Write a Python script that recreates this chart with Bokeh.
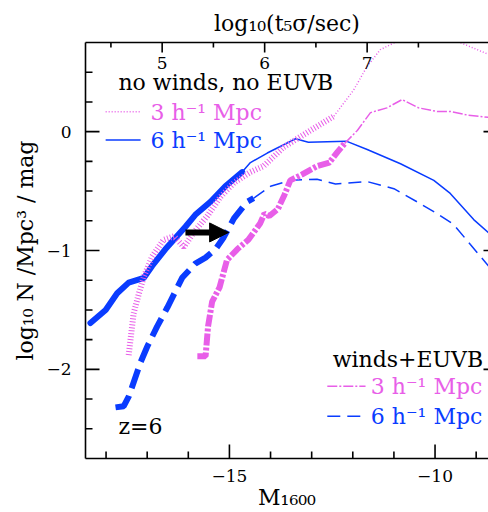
from bokeh.plotting import figure
from bokeh.models import (Range1d, LinearAxis, FixedTicker, Label, Arrow, NormalHead,
                          ColumnDataSource)
from bokeh.embed import file_html
from bokeh.resources import INLINE

# ---------------- data ----------------
# no winds, no EUVB, 6 h^-1 Mpc (blue solid)
m_nw6_thick = [-18.38, -18.01, -17.73, -17.45, -17.08, -16.88, -16.56, -16.07, -15.83, -15.46, -15.10, -14.69]
n_nw6_thick = [-1.61, -1.50, -1.36, -1.27, -1.23, -1.13, -0.99, -0.80, -0.70, -0.59, -0.46, -0.34]
m_nw6_thin = [-14.69, -14.49, -14.08, -13.68, -13.39, -13.08, -12.16, -11.65, -10.84, -10.03, -9.63, -9.06, -8.70]
n_nw6_thin = [-0.34, -0.26, -0.18, -0.11, -0.06, -0.09, -0.08, -0.15, -0.27, -0.41, -0.52, -0.74, -0.85]

# no winds, no EUVB, 3 h^-1 Mpc (magenta dotted)
m_nw3_thick = [-17.45, -17.33, -17.20, -17.08, -16.88, -16.60, -16.35, -16.11, -15.87, -15.54, -15.22, -14.89, -14.49, -14.17, -13.68, -13.03, -12.46]
n_nw3_thick = [-1.88, -1.53, -1.36, -1.22, -1.05, -0.91, -0.88, -0.97, -0.85, -0.71, -0.55, -0.43, -0.34, -0.29, -0.13, 0.01, 0.13]
m_nw3_thin = [-12.46, -11.98, -11.65, -11.33, -10.92, -10.50, -10.00, -9.46, -8.70]
n_nw3_thin = [0.13, 0.35, 0.55, 0.69, 0.76, 0.80, 0.80, 0.76, 0.65]

# winds + EUVB, 6 h^-1 Mpc (blue dashed)
m_w6_thick = [-17.77, -17.57, -17.45, -17.33, -17.16, -17.00, -16.76, -16.51, -16.15, -15.83, -15.58, -15.34, -15.14, -14.89, -14.57, -14.41]
n_w6_thick = [-2.32, -2.31, -2.23, -2.11, -1.94, -1.81, -1.64, -1.48, -1.23, -1.11, -1.06, -0.99, -0.89, -0.73, -0.59, -0.56]
m_w6_thin = [-14.41, -14.00, -13.52, -12.87, -12.42, -11.65, -11.00, -10.44, -9.95, -9.55, -9.14, -8.70]
n_w6_thin = [-0.56, -0.46, -0.41, -0.40, -0.44, -0.42, -0.48, -0.59, -0.69, -0.78, -0.95, -1.13]

# winds + EUVB, 3 h^-1 Mpc (magenta dash-dot)
m_w3_thick = [-15.78, -15.58, -15.52, -15.42, -15.24, -15.06, -14.81, -14.54, -14.25, -14.15, -14.03, -13.82, -13.66, -13.52, -13.23, -12.87, -12.57, -12.37, -12.20]
n_w3_thick = [-1.89, -1.89, -1.64, -1.43, -1.31, -1.08, -0.99, -0.91, -0.77, -0.69, -0.71, -0.65, -0.53, -0.41, -0.36, -0.29, -0.26, -0.17, -0.10]
m_w3_thin = [-12.20, -11.89, -11.57, -11.17, -10.80, -10.40, -9.95, -9.63, -9.22, -8.70]
n_w3_thin = [-0.10, 0.01, 0.16, 0.20, 0.27, 0.20, 0.17, 0.17, 0.14, 0.12]

# axes
X_RANGE = (-18.5, -8.70)
Y_RANGE = (-2.75, 0.75)
T_RANGE = (4.252, 8.184)
x_major = [-15, -10]
x_minor = [-18, -17, -16, -14, -13, -12, -11, -9]
y_major = [-2, -1, 0]
y_minor = [-2.5, -2.25, -1.75, -1.5, -1.25, -0.75, -0.5, -0.25, 0.25, 0.5]
t_major = [5, 6, 7]
t_minor = [4.5, 5.5, 6.5, 7.5]

# arrow
arrow_m = [-16.07, -15.02]
arrow_n = -0.848

BLUE = "#0a3cff"
MAG = "#e85ee8"
FONT = "DejaVu Serif"
TICK = "black"

FRAME_W, FRAME_H = 403, 418   # frame size in px
p = figure(width=488, height=512, output_backend="svg", toolbar_location=None,
           x_range=Range1d(*X_RANGE), y_range=Range1d(*Y_RANGE),
           min_border_left=85, min_border_right=0, min_border_top=42, min_border_bottom=52)
p.grid.visible = False
p.outline_line_color = None
p.background_fill_color = "white"
p.border_fill_color = "white"

def style_axis(ax):
    ax.major_tick_in = 0
    ax.major_tick_out = 0
    ax.minor_tick_in = 0
    ax.minor_tick_out = 0
    ax.axis_line_color = "black"
    ax.axis_line_width = 1.6
    ax.major_label_text_font = FONT
    ax.major_label_text_font_size = "17px"
    ax.major_label_text_color = "black"
    ax.axis_label_text_font = FONT
    ax.axis_label_text_font_size = "22px"
    ax.axis_label_text_font_style = "normal"
    ax.axis_label_text_color = "black"

def minus(v):
    return ("\u2212" + str(abs(v))) if v < 0 else str(v)

xa = p.xaxis[0]
style_axis(xa)
xa.ticker = FixedTicker(ticks=x_major, minor_ticks=x_minor)
xa.major_label_overrides = {v: minus(v) for v in x_major}
xa.major_label_standoff = 11
xa.axis_label = "M\u2081\u2086\u2080\u2080"
xa.axis_label_standoff = 0

ya = p.yaxis[0]
style_axis(ya)
ya.ticker = FixedTicker(ticks=y_major, minor_ticks=y_minor)
ya.major_label_overrides = {v: minus(v) for v in y_major}
ya.major_label_standoff = 14
ya.axis_label = "log\u2081\u2080 N /Mpc\u00b3 / mag"
ya.axis_label_standoff = 5

p.extra_x_ranges = {"t": Range1d(*T_RANGE)}
ta = LinearAxis(x_range_name="t")
style_axis(ta)
ta.ticker = FixedTicker(ticks=t_major, minor_ticks=t_minor)
ta.major_label_standoff = -26
ta.axis_label = "log\u2081\u2080(t\u2085\u03c3/sec)"
ta.axis_label_standoff = 18
p.add_layout(ta, "above")

# inward ticks drawn as head-less arrow annotations (lengths in px, converted with the frame scale)
dxp = (X_RANGE[1] - X_RANGE[0]) / FRAME_W
dyp = (Y_RANGE[1] - Y_RANGE[0]) / FRAME_H

def tick_set(x0, y0, x1, y1, rng="default"):
    src = ColumnDataSource(dict(x0=x0, y0=y0, x1=x1, y1=y1))
    p.add_layout(Arrow(start=None, end=None, source=src, x_start="x0", y_start="y0",
                       x_end="x1", y_end="y1", line_color=TICK, line_width=1.6,
                       x_range_name=rng))

def vticks(xs, y0, length, rng="default"):
    tick_set(xs, [y0] * len(xs), xs, [y0 + length * dyp] * len(xs), rng)

def hticks(ys, x0, length):
    tick_set([x0] * len(ys), ys, [x0 + length * dxp] * len(ys), ys)

vticks(x_major, Y_RANGE[0], 14)
vticks(x_minor, Y_RANGE[0], 7)
vticks(t_major, Y_RANGE[1], -10, "t")
vticks(t_minor, Y_RANGE[1], -5, "t")
hticks(y_major, X_RANGE[0], 14)
hticks(y_minor, X_RANGE[0], 7)
hticks(y_major, X_RANGE[1], -5)

# curves: thick parts then thin continuations
p.line(m_nw6_thick, n_nw6_thick, color=BLUE, line_width=6, line_cap="round", line_join="round")
p.line(m_nw6_thin, n_nw6_thin, color=BLUE, line_width=1.5)

p.line(m_nw3_thick, n_nw3_thick, color=MAG, line_width=6, line_dash="1 2")
p.line(m_nw3_thin, n_nw3_thin, color=MAG, line_width=1.5, line_dash="1 2")

p.line(m_w6_thick, n_w6_thick, color=BLUE, line_width=6, line_dash="20 8")
p.line(m_w6_thin, n_w6_thin, color=BLUE, line_width=1.5, line_dash="13 7")

p.line(m_w3_thick, n_w3_thick, color=MAG, line_width=6, line_dash="12 2 3 2")
p.line(m_w3_thin, n_w3_thin, color=MAG, line_width=1.5, line_dash="10 2 2 2")

p.add_layout(Arrow(end=NormalHead(size=19, fill_color="black", line_color="black", line_width=1),
                   x_start=arrow_m[0], y_start=arrow_n, x_end=arrow_m[1], y_end=arrow_n,
                   line_color="black", line_width=6))

# ------------- legends & annotations -------------
def lab(x, y, text, color="black", size="22px", align="left", baseline="middle"):
    p.add_layout(Label(x=x, y=y, text=text, text_color=color, text_font=FONT,
                       text_font_size=size, text_align=align, text_baseline=baseline))

lab(-17.70, 0.41, "no winds, no EUVB")
p.line([-18.01, -17.16], [0.168, 0.168], color=MAG, line_width=1.5, line_dash="1 2")
lab(-16.92, 0.16, "3 h\u207b\u00b9 Mpc", color=MAG)
p.line([-18.01, -17.16], [-0.07, -0.07], color=BLUE, line_width=1.5)
lab(-16.92, -0.078, "6 h\u207b\u00b9 Mpc", color=BLUE)

lab(-8.83, -1.918, "winds+EUVB", align="right")
p.line([-12.62, -11.69], [-2.143, -2.143], color=MAG, line_width=1.5, line_dash="10 2 2 2")
lab(-8.85, -2.145, "3 h\u207b\u00b9 Mpc", color=MAG, align="right")
p.line([-12.62, -11.69], [-2.395, -2.395], color=BLUE, line_width=1.5, line_dash="13 7")
lab(-8.85, -2.397, "6 h\u207b\u00b9 Mpc", color=BLUE, align="right")

lab(-17.70, -2.481, "z=6")

open("out.html", "w").write(file_html(p, INLINE))
